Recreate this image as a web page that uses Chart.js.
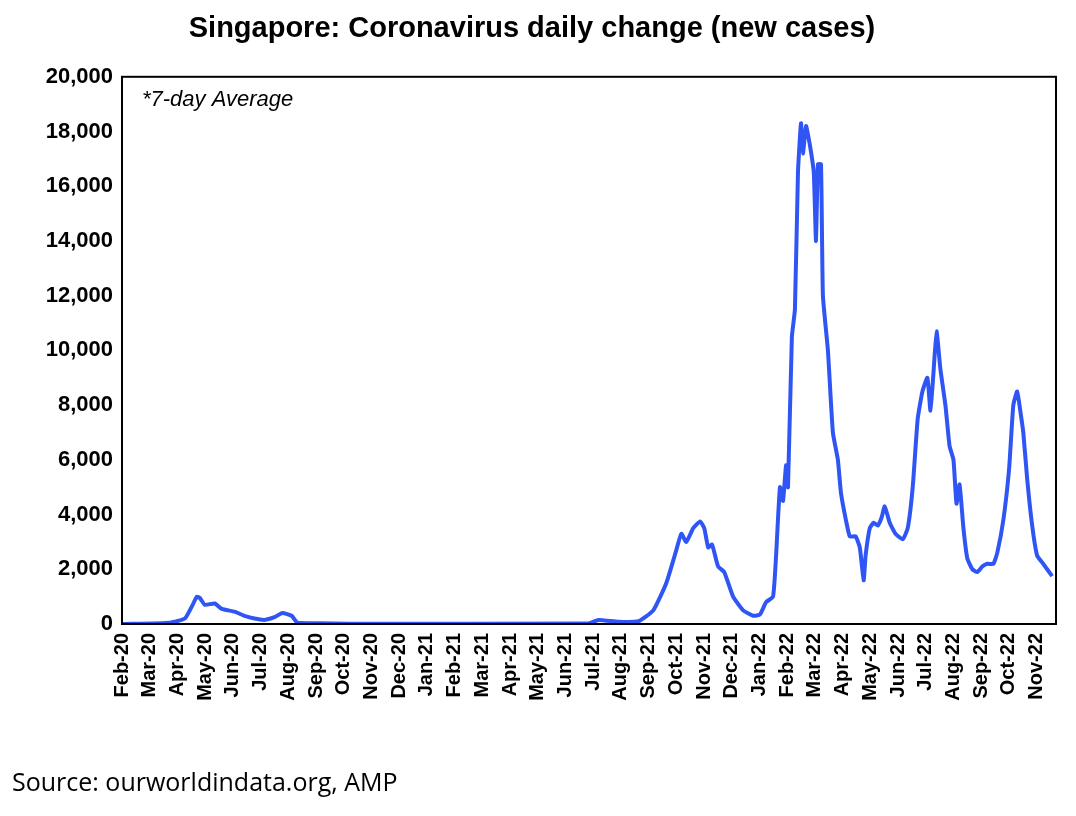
<!DOCTYPE html>
<html>
<head>
<meta charset="utf-8">
<script src="https://cdn.jsdelivr.net/npm/chart.js@4"></script>
<style>
  body { margin: 0; background: #fff; }
  #wrap { position: relative; width: 1076px; height: 816px; }
  #source { position: absolute; left: 12px; top: 764px; font: 25px "Open Sans", "Liberation Sans", Arial, sans-serif; color: #000; }
</style>
</head>
<body>
<div id="wrap">
  <canvas id="myChart" width="1076" height="816"></canvas>
  <div id="source">Source: ourworldindata.org, AMP</div>
</div>
<script>
'use strict';

//========== Data ==========
let monthLabels = ['Feb-20', 'Mar-20', 'Apr-20', 'May-20', 'Jun-20', 'Jul-20', 'Aug-20', 'Sep-20', 'Oct-20', 'Nov-20', 'Dec-20', 'Jan-21',
  'Feb-21', 'Mar-21', 'Apr-21', 'May-21', 'Jun-21', 'Jul-21', 'Aug-21', 'Sep-21', 'Oct-21', 'Nov-21', 'Dec-21', 'Jan-22',
  'Feb-22', 'Mar-22', 'Apr-22', 'May-22', 'Jun-22', 'Jul-22', 'Aug-22', 'Sep-22', 'Oct-22', 'Nov-22'];

// position in months since start of Feb-20
let monthPos = [0, 1.73, 2.27, 2.55, 2.70, 2.81, 2.99, 3.35, 3.60, 4.06, 4.42, 4.78, 5.14, 5.50, 5.79, 6.12, 6.33, 7.12, 8.20,
  16.83, 17.19, 17.91, 18.63, 19.17, 19.64, 20.0, 20.18, 20.36, 20.61, 20.86, 21.01, 21.15, 21.29, 21.51, 21.73, 22.05,
  22.41, 22.77, 23.02, 23.24, 23.49, 23.60, 23.74, 23.85, 23.96, 24.03, 24.17, 24.28, 24.39, 24.50, 24.57, 24.68, 24.82,
  24.96, 25.04, 25.11, 25.22, 25.29, 25.47, 25.65, 25.83, 25.94, 26.12, 26.26, 26.47, 26.62, 26.76, 26.83, 26.98, 27.12,
  27.27, 27.41, 27.52, 27.70, 27.91, 28.17, 28.35, 28.53, 28.71, 28.88, 29.06, 29.17, 29.28, 29.39, 29.53, 29.71, 29.86,
  30.0, 30.11, 30.22, 30.36, 30.50, 30.68, 30.86, 31.04, 31.22, 31.44, 31.58, 31.80, 32.01, 32.16, 32.30, 32.41, 32.52,
  32.66, 32.84, 33.02, 33.24, 33.56];

let newCases = [0, 50, 200, 700, 1000, 950, 700, 750, 550, 450, 300, 200, 150, 250, 400, 300, 50, 30, 10,
  20, 150, 80, 100, 500, 1500, 2700, 3300, 3000, 3500, 3750, 3500, 2800, 2900, 2100, 1900, 1000,
  500, 300, 350, 800, 1000, 2500, 5000, 4500, 5800, 5000, 10500, 11500, 16500, 18300, 17200, 18200, 17500,
  16500, 14000, 16800, 16800, 12000, 10000, 7000, 6000, 4800, 3800, 3200, 3200, 2800, 1600, 2500, 3500, 3700,
  3600, 3900, 4300, 3700, 3300, 3100, 3500, 5000, 7500, 8500, 9000, 7800, 9200, 10700, 9300, 8000, 6500,
  6000, 4400, 5100, 3500, 2400, 2000, 1900, 2100, 2200, 2200, 2600, 3800, 5700, 8000, 8500, 7800, 7000,
  5300, 3600, 2500, 2200, 1750];

let points = [];
for (let i = 0; i < monthPos.length; i++) {
  points.push({ x: monthPos[i], y: newCases[i] });
}

//========== Plugins ==========
let notePlugin = {
  id: 'note',
  afterDraw(chart) {
    let c = chart.ctx;
    let a = chart.chartArea;
    c.save();
    c.font = 'italic 22px "Liberation Sans", Arial, sans-serif';
    c.fillStyle = '#000';
    c.textBaseline = 'top';
    c.fillText('*7-day Average', a.left + 20, a.top + 12);
    c.strokeStyle = '#000';
    c.lineWidth = 2;
    c.strokeRect(a.left, a.top, a.right - a.left, a.bottom - a.top);
    c.restore();
  }
};

//========== Chart ==========
let ctx = document.getElementById('myChart').getContext('2d');
let myChart = new Chart(ctx, {
  type: 'line',
  data: {
    datasets: [{
      data: points,
      borderColor: '#2F55F5',
      borderWidth: 4,
      pointRadius: 0,
      tension: 0.15,
      fill: false
    }]
  },
  options: {
    responsive: false,
    animation: false,
    layout: { padding: { left: 8, right: 20, top: 4, bottom: 92 } },
    plugins: {
      legend: { display: false },
      tooltip: { enabled: false },
      title: {
        display: true,
        text: 'Singapore: Coronavirus daily change (new cases)',
        color: '#000',
        font: { family: '"Liberation Sans", Arial, sans-serif', size: 29, weight: 'bold' },
        padding: { top: 8, bottom: 30 }
      }
    },
    scales: {
      x: {
        type: 'linear',
        min: 0,
        max: 33.7,
        grid: { display: false, tickLength: 6, color: '#000' },
        border: { color: '#000', width: 2 },
        afterBuildTicks: function (s) {
          s.ticks = monthLabels.map(function (l, i) { return { value: i }; });
        },
        afterFit: function (s) { s.height = 100; },
        ticks: {
          autoSkip: false,
          maxRotation: 90,
          minRotation: 90,
          color: '#000',
          font: { family: '"Liberation Sans", Arial, sans-serif', size: 20, weight: 'bold' },
          callback: function (v) { return monthLabels[v]; }
        }
      },
      y: {
        min: 0,
        max: 20000,
        grid: { display: false, tickLength: 6, color: '#000' },
        border: { color: '#000', width: 2 },
        afterFit: function (s) { s.width = 114; },
        ticks: {
          stepSize: 2000,
          color: '#000',
          font: { family: '"Liberation Sans", Arial, sans-serif', size: 22, weight: 'bold' },
          callback: function (v) { return v.toLocaleString('en-US'); }
        }
      }
    }
  },
  plugins: [notePlugin]
});
</script>
</body>
</html>
